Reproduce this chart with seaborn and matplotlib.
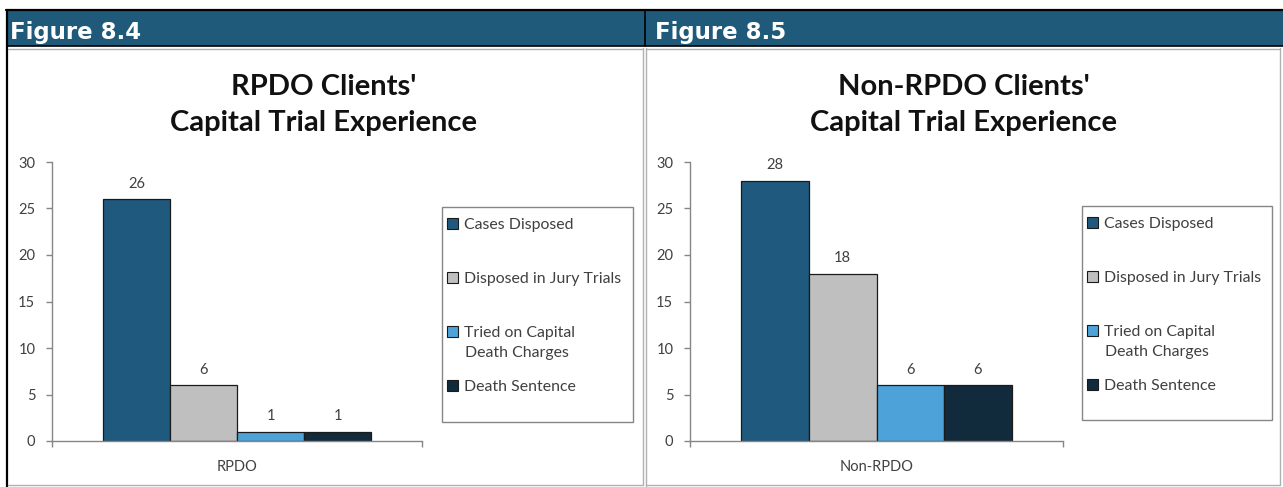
import matplotlib
matplotlib.use("Agg")
import matplotlib.pyplot as plt
import seaborn as sns
import pandas as pd
from matplotlib.patches import Rectangle, Patch
from matplotlib.lines import Line2D

# ---- data -------------------------------------------------------------
series = ["Cases Disposed", "Disposed in Jury Trials",
          "Tried on Capital Death Charges", "Death Sentence"]
rpdo_values = [26, 6, 1, 1]
non_rpdo_values = [28, 18, 6, 6]
groups = ["RPDO", "Non-RPDO"]
figure_labels = ["Figure 8.4", "Figure 8.5"]
title_line1 = ["RPDO Clients'", "Non-RPDO Clients'"]
title_line2 = ["Capital Trial Experience", "Capital Trial Experience"]
y_ticks = [0, 5, 10, 15, 20, 25, 30]
colors = ["#1F5A7E", "#BFBFBF", "#4DA3D9", "#112B3D"]

W, H = 1283, 487
sns.set_theme(style="white")
plt.rcParams["font.family"] = ["Lato", "DejaVu Sans"]

fig = plt.figure(figsize=(W / 100, H / 100), dpi=100)
fig.patch.set_facecolor("white")


def fx(px):
    return px / W


def fy(py):
    return 1 - py / H


def hline(x0, x1, y, color, lw):
    fig.add_artist(Line2D([fx(x0), fx(x1)], [fy(y), fy(y)], color=color, lw=lw,
                          transform=fig.transFigure))


def vline(x, y0, y1, color, lw):
    fig.add_artist(Line2D([fx(x), fx(x)], [fy(y0), fy(y1)], color=color, lw=lw,
                          transform=fig.transFigure))


# ---- page frame: header band and panel borders -----------------------
fig.add_artist(Rectangle((fx(7), fy(46)), fx(1283) - fx(7), (46 - 10) / H,
                         facecolor="#1F5A7B", edgecolor="none",
                         transform=fig.transFigure))
hline(6, 1283, 10, "black", 1.6)
hline(7, 1283, 46, "black", 1.2)
vline(7, 10, 487, "black", 1.6)
vline(645, 10, 46, "black", 1.2)
grey_border = "#B0B0B0"
hline(8, 643, 48.5, grey_border, 1.0)
hline(646, 1280, 48.5, grey_border, 1.0)
hline(8, 643, 485, grey_border, 1.0)
hline(646, 1280, 485, grey_border, 1.0)
vline(643, 48, 485, grey_border, 1.0)
vline(646, 48, 487, grey_border, 1.0)
vline(1280, 48, 485, grey_border, 1.0)

# ---- panels -----------------------------------------------------------
panels = [
    dict(values=rpdo_values, ax_x=(52, 422), header_x=10, title_x=324,
         legend_box=(442, 207, 633, 422)),
    dict(values=non_rpdo_values, ax_x=(690, 1063), header_x=655, title_x=964,
         legend_box=(1082, 206, 1272, 420)),
]
axis_grey = "#868686"
text_grey = "#404040"
legend_size = 11.4

for i, p in enumerate(panels):
    x0, x1 = p["ax_x"]
    y_top, y_bot = 162, 441
    ax = fig.add_axes([fx(x0), fy(y_bot), (x1 - x0) / W, (y_bot - y_top) / H])
    df = pd.DataFrame({"group": [groups[i]] * len(series),
                       "series": series,
                       "value": p["values"]})
    sns.barplot(data=df, x="group", y="value", hue="series", hue_order=series,
                palette=colors, saturation=1, width=0.725, gap=0,
                edgecolor="#1A1A1A", linewidth=0.9, legend=False, ax=ax)
    for cont in ax.containers:
        ax.bar_label(cont, fmt="%d", padding=6, fontsize=10.5, color=text_grey)

    ax.set_xlim(-0.5, 0.5)
    ax.set_ylim(0, 30)
    ax.set_yticks(y_ticks)
    ax.set_xlabel("")
    ax.set_ylabel("")
    ax.set_facecolor("none")
    for side in ("top", "right"):
        ax.spines[side].set_visible(False)
    for side in ("left", "bottom"):
        ax.spines[side].set_color(axis_grey)
        ax.spines[side].set_linewidth(1.0)
    ax.tick_params(axis="y", direction="out", length=4, width=1, color=axis_grey,
                   labelsize=10.5, labelcolor=text_grey, pad=8, left=True)
    ax.tick_params(axis="x", which="major", length=0, labelsize=10.5,
                   labelcolor=text_grey, pad=14)
    ax.set_xticks([-0.5, 0.5], minor=True)
    ax.tick_params(axis="x", which="minor", direction="out", length=4, width=1,
                   color=axis_grey, bottom=True)

    # header label and two-line title
    fig.text(fx(p["header_x"]), fy(39), figure_labels[i], color="white",
             fontsize=16.5, fontweight="bold", va="baseline", ha="left",
             family=["DejaVu Sans"])
    fig.text(fx(p["title_x"]), fy(87), title_line1[i], ha="center", va="center",
             fontsize=21, fontweight="bold", color="#111111")
    fig.text(fx(p["title_x"]), fy(123), title_line2[i], ha="center", va="center",
             fontsize=21, fontweight="bold", color="#111111")

    # legend with a plain box around it
    lx0, ly0, lx1, ly1 = p["legend_box"]
    fig.add_artist(Rectangle((fx(lx0), fy(ly1)), fx(lx1) - fx(lx0), (ly1 - ly0) / H,
                             fill=False, edgecolor=axis_grey, lw=1.0,
                             transform=fig.transFigure))
    handles = [Patch(facecolor=c, edgecolor="#1A1A1A", lw=0.8) for c in colors]
    labels = ["Cases Disposed", "Disposed in Jury Trials", "Tried on Capital",
              "Death Sentence"]
    fig.legend(handles, labels, loc="upper left",
               bbox_to_anchor=(fx(lx0 + 5), fy(ly0 + 11)), frameon=False,
               fontsize=legend_size, handlelength=0.7, handleheight=0.7,
               handletextpad=0.4, labelspacing=2.52, borderpad=0,
               borderaxespad=0, labelcolor=text_grey)
    fig.text(fx(lx0 + 23), fy(ly0 + 146), "Death Charges", fontsize=legend_size,
             color=text_grey, va="center", ha="left")

fig.savefig("out.png", dpi=100, facecolor="white")
